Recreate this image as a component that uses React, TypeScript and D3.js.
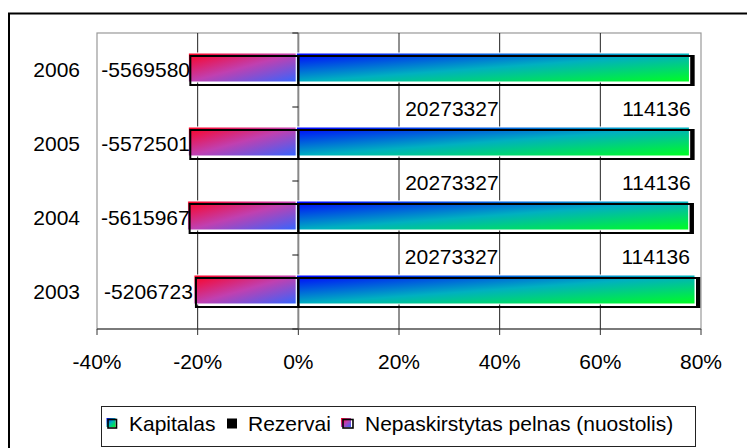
import React from 'react';
import * as d3 from 'd3';

const years = ['2006', '2005', '2004', '2003'];
const kapitalas = [20273327, 20273327, 20273327, 20273327];
const rezervai = [114136, 114136, 114136, 114136];
const pelnas = [-5569580, -5572501, -5615967, -5206723];
const xTicks = [-40, -20, 0, 20, 40, 60, 80];
const seriesNames = ['Kapitalas', 'Rezervai', 'Nepaskirstytas pelnas (nuostolis)'];

const W = 747;
const H = 448;
const FONT = '"Liberation Sans", Arial, sans-serif';
const FS = 21;

export default function App() {
  const plot = { left: 97, right: 701, top: 33, bottom: 329 };
  const x = d3.scaleLinear().domain([-40, 80]).range([plot.left, plot.right]);
  const y = d3.scaleBand<string>().domain(years).range([plot.top, plot.bottom]).padding(0);
  const step = y.step();
  const barH = 29;

  const rows = years.map((yr, i) => {
    const total = Math.abs(kapitalas[i]) + Math.abs(rezervai[i]) + Math.abs(pelnas[i]);
    const k = (kapitalas[i] / total) * 100;
    const r = (rezervai[i] / total) * 100;
    const p = (pelnas[i] / total) * 100;
    return { yr, i, k, r, p, yc: (y(yr) as number) + step / 2 };
  });

  const boundaries = d3.range(years.length + 1).map((j) => plot.top + j * step);

  return (
    <svg
      width={W}
      height={H}
      style={{ position: 'fixed', left: 0, top: 0, background: '#fff' }}
      fontFamily={FONT}
      fontSize={FS}
    >
      <defs>
        <linearGradient id="gK" x1="0" y1="0" x2="1" y2="1">
          <stop offset="0" stopColor="#0000ff" />
          <stop offset="0.5" stopColor="#00b0c0" />
          <stop offset="1" stopColor="#00ff20" />
        </linearGradient>
        <linearGradient id="gP" x1="0" y1="0" x2="1" y2="1">
          <stop offset="0" stopColor="#ff0020" />
          <stop offset="0.5" stopColor="#c040b0" />
          <stop offset="1" stopColor="#3366ff" />
        </linearGradient>
      </defs>
      <rect x={0} y={0} width={W} height={H} fill="#fff" />
      {/* outer frame */}
      <rect x={9} y={13.5} width={800} height={500} fill="none" stroke="#000" strokeWidth={2} />

      {/* plot area border */}
      <rect
        x={plot.left}
        y={plot.top}
        width={plot.right - plot.left}
        height={plot.bottom - plot.top}
        fill="#fff"
        stroke="#999"
        strokeWidth={1.2}
      />
      {/* gridlines */}
      {xTicks
        .filter((t) => t !== 0 && t !== -40 && t !== 80)
        .map((t) => (
          <line key={'g' + t} x1={x(t)} x2={x(t)} y1={plot.top} y2={plot.bottom} stroke="#222" strokeWidth={1} />
        ))}
      {/* category axis at 0 */}
      <line x1={x(0)} x2={x(0)} y1={plot.top} y2={plot.bottom} stroke="#888" strokeWidth={2} />
      {boundaries.map((b, j) => (
        <line key={'yt' + j} x1={x(0) - 6} x2={x(0)} y1={b} y2={b} stroke="#111" strokeWidth={1} />
      ))}

      {/* bars */}
      {rows.map((d) => {
        const top = d.yc - 14;
        const segs = [
          { x0: x(d.p), x1: x(0), fill: 'url(#gP)' },
          { x0: x(0), x1: x(d.k), fill: 'url(#gK)' },
        ];
        return (
          <g key={'b' + d.yr}>
            {segs.map((s, j) => (
              <rect
                key={'f' + j}
                x={s.x0 - 2}
                y={top - 3}
                width={s.x1 - s.x0}
                height={barH}
                fill={s.fill}
                stroke="#fff"
                strokeWidth={1}
              />
            ))}
            {segs.map((s, j) => (
              <rect
                key={'o' + j}
                x={s.x0}
                y={top}
                width={s.x1 - s.x0}
                height={barH}
                fill="none"
                stroke="#000"
                strokeWidth={2}
              />
            ))}
            <rect
              x={x(d.k)}
              y={top}
              width={x(d.k + d.r) - x(d.k)}
              height={barH}
              fill="#000"
              stroke="#000"
              strokeWidth={2}
            />
          </g>
        );
      })}

      {/* value axis */}
      <line x1={plot.left} x2={plot.right} y1={plot.bottom} y2={plot.bottom} stroke="#333" strokeWidth={1.2} />
      {xTicks.map((t) => (
        <g key={'xt' + t}>
          <line x1={x(t)} x2={x(t)} y1={plot.bottom} y2={plot.bottom + 6} stroke="#333" strokeWidth={1} />
          <text x={x(t)} y={368.5} textAnchor="middle" fill="#000">
            {t + '%'}
          </text>
        </g>
      ))}

      {/* category labels */}
      {rows.map((d) => (
        <text key={'yl' + d.yr} x={80} y={d.yc + 6.5} textAnchor="end" fill="#000">
          {d.yr}
        </text>
      ))}

      {/* data labels */}
      {rows.map((d) => (
        <text
          key={'pl' + d.yr}
          x={(plot.left + x(d.p)) / 2 + 2}
          y={d.yc + 6.5}
          textAnchor="middle"
          fill="#000"
        >
          {String(pelnas[d.i])}
        </text>
      ))}
      {rows
        .filter((d) => d.yc + 45.5 < plot.bottom)
        .map((d) => (
          <g key={'kl' + d.yr}>
            <text x={x(d.k / 2) - 43} y={d.yc + 45.5} textAnchor="middle" fill="#000">
              {String(kapitalas[d.i])}
            </text>
            <text x={x(d.k + d.r) - 3} y={d.yc + 45.5} textAnchor="end" fill="#000">
              {String(rezervai[d.i])}
            </text>
          </g>
        ))}

      {/* legend */}
      <rect x={101.5} y={406.5} width={594} height={40} fill="#fff" stroke="#222" strokeWidth={1} />
      <g>
        <rect x={106.5} y={418} width={9} height={9} fill="url(#gK)" />
        <rect x={108} y={419.5} width={8.5} height={8.5} fill="none" stroke="#000" strokeWidth={1.6} />
        <text x={129} y={431} fill="#000">{seriesNames[0]}</text>
        <rect x={227} y={418.5} width={10} height={10} fill="#000" />
        <text x={248} y={431} fill="#000">{seriesNames[1]}</text>
        <rect x={341} y={418} width={10} height={9} fill="url(#gP)" />
        <rect x={343} y={419.5} width={10} height={8.5} fill="none" stroke="#000" strokeWidth={1.6} />
        <text x={365} y={431} fill="#000">{seriesNames[2]}</text>
      </g>
    </svg>
  );
}
